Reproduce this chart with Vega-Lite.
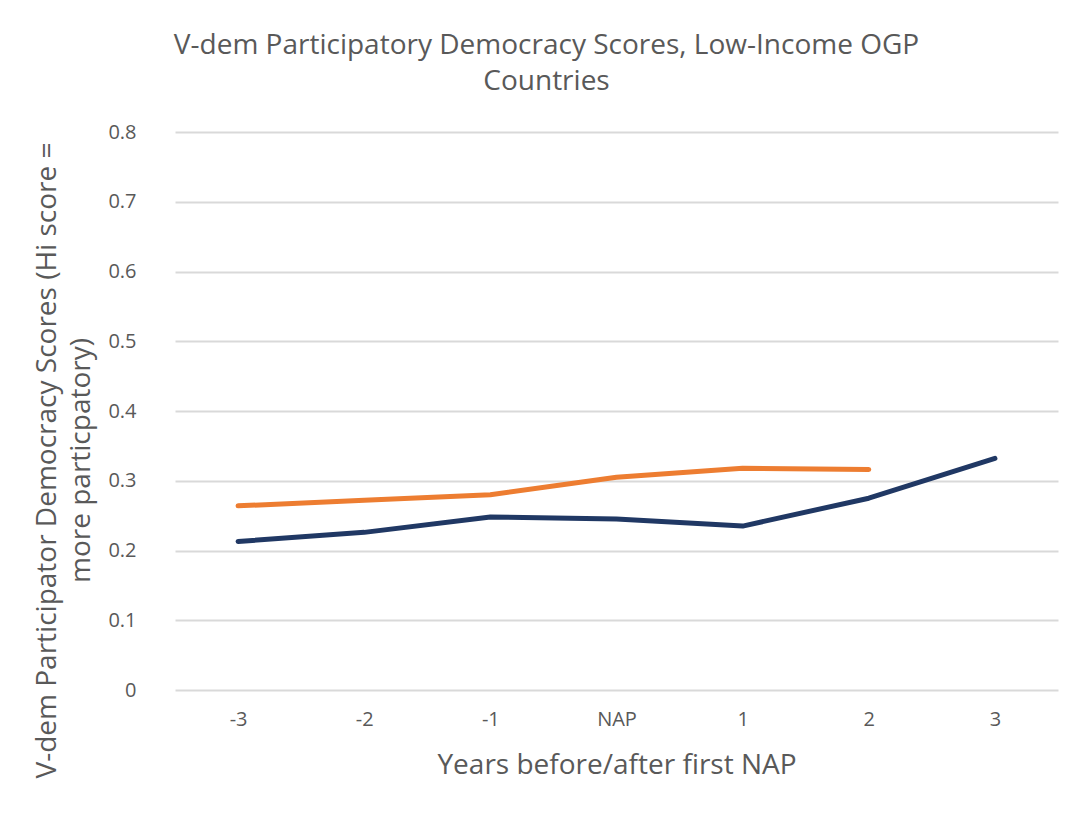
{
  "$schema": "https://vega.github.io/schema/vega-lite/v6.json",
  "width": 883,
  "height": 558,
  "autosize": {"type": "none"},
  "padding": {"left": 175, "top": 132, "right": 34, "bottom": 127},
  "background": "white",
  "config": {
    "view": {"stroke": null},
    "font": "Open Sans"
  },
  "title": {
    "text": ["V-dem Participatory Democracy Scores, Low-Income OGP", "Countries"],
    "anchor": "middle",
    "frame": "group",
    "dx": -70,
    "offset": 26,
    "fontSize": 28,
    "fontWeight": "normal",
    "color": "#595959",
    "lineHeight": 36,
    "font": "Open Sans"
  },
  "data": {
    "values": [
      {"year": "-3", "series": "navy", "score": 0.213},
      {"year": "-2", "series": "navy", "score": 0.226},
      {"year": "-1", "series": "navy", "score": 0.248},
      {"year": "NAP", "series": "navy", "score": 0.245},
      {"year": "1", "series": "navy", "score": 0.235},
      {"year": "2", "series": "navy", "score": 0.275},
      {"year": "3", "series": "navy", "score": 0.332},
      {"year": "-3", "series": "orange", "score": 0.264},
      {"year": "-2", "series": "orange", "score": 0.272},
      {"year": "-1", "series": "orange", "score": 0.28},
      {"year": "NAP", "series": "orange", "score": 0.305},
      {"year": "1", "series": "orange", "score": 0.318},
      {"year": "2", "series": "orange", "score": 0.316}
    ]
  },
  "mark": {"type": "line", "strokeWidth": 5, "strokeCap": "round", "strokeJoin": "round"},
  "encoding": {
    "x": {
      "field": "year",
      "type": "ordinal",
      "sort": ["-3", "-2", "-1", "NAP", "1", "2", "3"],
      "scale": {"type": "point", "padding": 0.5},
      "axis": {
        "title": "Years before/after first NAP",
        "titleFontSize": 28,
        "titleFontWeight": "normal",
        "titleColor": "#595959",
        "titleY": 75,
        "titleBaseline": "middle",
        "labelAngle": 0,
        "labelFontSize": 20,
        "labelColor": "#595959",
        "labelPadding": 19,
        "ticks": false,
        "domain": false,
        "grid": false
      }
    },
    "y": {
      "field": "score",
      "type": "quantitative",
      "scale": {"domain": [0, 0.8], "nice": false},
      "axis": {
        "values": [0, 0.1, 0.2, 0.3, 0.4, 0.5, 0.6, 0.7, 0.8],
        "format": ".1~f",
        "title": ["V-dem Participator Democracy Scores (Hi score =", "\u00a0\u00a0\u00a0\u00a0\u00a0\u00a0\u00a0\u00a0\u00a0\u00a0\u00a0\u00a0\u00a0\u00a0more particpatory)"],
        "titleFontSize": 28,
        "titleFontWeight": "normal",
        "titleColor": "#595959",
        "titleLineHeight": 34,
        "titleAngle": -90,
        "titleBaseline": "alphabetic",
        "titleAlign": "center",
        "titleX": -120,
        "titleY": 328,
        "labelFontSize": 20,
        "labelColor": "#595959",
        "labelPadding": 39,
        "ticks": false,
        "domain": false,
        "grid": true,
        "gridColor": "#d9d9d9",
        "gridWidth": 2
      }
    },
    "color": {
      "field": "series",
      "type": "nominal",
      "scale": {"domain": ["navy", "orange"], "range": ["#203864", "#ed7d31"]},
      "legend": null
    }
  }
}
